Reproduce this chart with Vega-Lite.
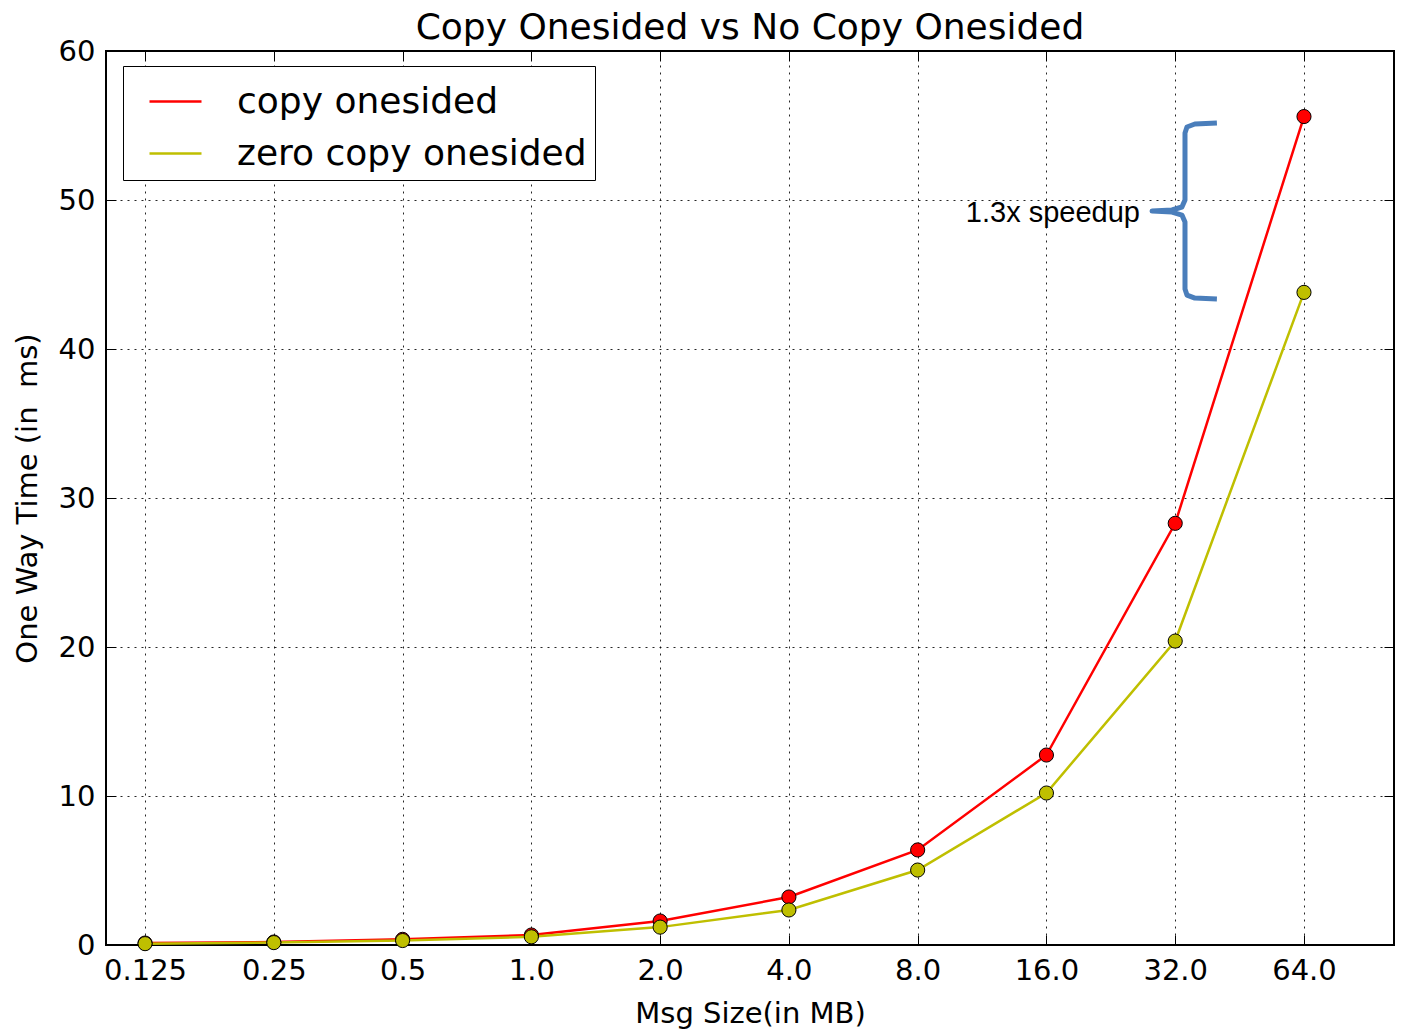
{
  "$schema": "https://vega.github.io/schema/vega-lite/v6.json",
  "autosize": "none",
  "width": 1288,
  "height": 894,
  "padding": {"left": 106, "top": 51, "right": 7, "bottom": 88},
  "background": "white",
  "title": {"text": "Copy Onesided vs No Copy Onesided", "fontSize": 36, "fontWeight": "normal", "font": "DejaVu Sans", "color": "black", "anchor": "middle", "offset": -10},
  "datasets": {
    "series": [
      {"size": 0.125, "time": 0.13, "series": "copy onesided"},
      {"size": 0.25, "time": 0.2, "series": "copy onesided"},
      {"size": 0.5, "time": 0.38, "series": "copy onesided"},
      {"size": 1.0, "time": 0.67, "series": "copy onesided"},
      {"size": 2.0, "time": 1.61, "series": "copy onesided"},
      {"size": 4.0, "time": 3.22, "series": "copy onesided"},
      {"size": 8.0, "time": 6.38, "series": "copy onesided"},
      {"size": 16.0, "time": 12.75, "series": "copy onesided"},
      {"size": 32.0, "time": 28.3, "series": "copy onesided"},
      {"size": 64.0, "time": 55.6, "series": "copy onesided"},
      {"size": 0.125, "time": 0.09, "series": "zero copy onesided"},
      {"size": 0.25, "time": 0.16, "series": "zero copy onesided"},
      {"size": 0.5, "time": 0.3, "series": "zero copy onesided"},
      {"size": 1.0, "time": 0.55, "series": "zero copy onesided"},
      {"size": 2.0, "time": 1.2, "series": "zero copy onesided"},
      {"size": 4.0, "time": 2.35, "series": "zero copy onesided"},
      {"size": 8.0, "time": 5.03, "series": "zero copy onesided"},
      {"size": 16.0, "time": 10.2, "series": "zero copy onesided"},
      {"size": 32.0, "time": 20.4, "series": "zero copy onesided"},
      {"size": 64.0, "time": 43.8, "series": "zero copy onesided"}
    ],
    "brace": [
      {"o": 1, "size": 40.05, "time": 55.17},
      {"o": 2, "size": 35.57, "time": 55.10},
      {"o": 3, "size": 34.09, "time": 54.90},
      {"o": 4, "size": 33.73, "time": 54.50},
      {"o": 5, "size": 33.73, "time": 50.0},
      {"o": 6, "size": 33.18, "time": 49.53},
      {"o": 7, "size": 31.45, "time": 49.33},
      {"o": 8, "size": 28.25, "time": 49.26},
      {"o": 9, "size": 31.45, "time": 49.19},
      {"o": 10, "size": 33.18, "time": 48.99},
      {"o": 11, "size": 33.73, "time": 48.52},
      {"o": 12, "size": 33.73, "time": 44.03},
      {"o": 13, "size": 34.09, "time": 43.62},
      {"o": 14, "size": 35.57, "time": 43.42},
      {"o": 15, "size": 40.05, "time": 43.36}
    ],
    "note": [
      {"size": 26.47, "time": 48.52, "label": "1.3x speedup"}
    ]
  },
  "resolve": {"axis": {"x": "independent", "y": "independent"}},
  "layer": [
    {
      "data": {"name": "series"},
      "mark": {"type": "line", "strokeWidth": 2.5},
      "encoding": {
        "x": {"field": "size", "type": "quantitative",
          "scale": {"type": "log", "base": 2, "domain": [0.1013, 103.9], "nice": false, "zero": false},
          "axis": {"orient": "bottom", "values": [0.125, 0.25, 0.5, 1, 2, 4, 8, 16, 32, 64],
            "labelExpr": "datum.value < 1 ? '' + datum.value : format(datum.value, '.1f')",
            "title": "Msg Size(in MB)"}},
        "y": {"field": "time", "type": "quantitative",
          "scale": {"domain": [0, 60], "nice": false, "zero": true},
          "axis": {"orient": "left", "values": [0, 10, 20, 30, 40, 50, 60], "title": "One Way Time (in \u00a0ms)"}},
        "color": {"field": "series", "type": "nominal",
          "scale": {"domain": ["copy onesided", "zero copy onesided"], "range": ["#ff0000", "#bfbf00"]},
          "legend": {"title": null, "orient": "none", "legendX": 17, "legendY": 15,
            "symbolType": "stroke", "symbolSize": 2704, "symbolStrokeWidth": 2.5,
            "labelFontSize": 36, "labelFont": "DejaVu Sans", "labelColor": "black",
            "labelOffset": 34, "rowPadding": 6, "padding": 8, "symbolOffset": 17,
            "strokeColor": "black", "fillColor": "white", "cornerRadius": 0, "labelLimit": 0}}
      }
    },
    {
      "data": {"name": "series"},
      "mark": {"type": "point", "filled": true, "size": 200, "stroke": "black", "strokeWidth": 1, "opacity": 1},
      "encoding": {
        "x": {"field": "size", "type": "quantitative", "axis": null},
        "y": {"field": "time", "type": "quantitative", "axis": null},
        "color": {"field": "series", "type": "nominal", "legend": null}
      }
    },
    {
      "data": {"name": "series"},
      "mark": {"type": "point", "opacity": 0},
      "encoding": {
        "x": {"field": "size", "type": "quantitative",
          "axis": {"orient": "top", "values": [0.125, 0.25, 0.5, 1, 2, 4, 8, 16, 32, 64], "labels": false, "grid": false, "title": null, "domain": false}},
        "y": {"field": "time", "type": "quantitative",
          "axis": {"orient": "right", "values": [0, 10, 20, 30, 40, 50, 60], "labels": false, "grid": false, "title": null, "domain": false}}
      }
    },
    {
      "data": {"name": "brace"},
      "mark": {"type": "line", "color": "#4a7ebb", "strokeWidth": 5, "strokeCap": "butt", "strokeJoin": "round"},
      "encoding": {
        "x": {"field": "size", "type": "quantitative", "axis": null},
        "y": {"field": "time", "type": "quantitative", "axis": null},
        "order": {"field": "o", "type": "quantitative"}
      }
    },
    {
      "data": {"name": "note"},
      "mark": {"type": "text", "align": "right", "baseline": "alphabetic", "font": "Liberation Sans", "fontSize": 29, "color": "black"},
      "encoding": {
        "x": {"field": "size", "type": "quantitative", "axis": null},
        "y": {"field": "time", "type": "quantitative", "axis": null},
        "text": {"field": "label"}
      }
    }
  ],
  "config": {
    "view": {"stroke": "black", "strokeWidth": 2},
    "font": "DejaVu Sans",
    "axis": {
      "domain": false,
      "tickSize": -10, "tickColor": "black", "tickWidth": 1,
      "grid": true, "gridColor": "black", "gridDash": [2, 5], "gridWidth": 1, "gridOpacity": 0.85,
      "labelFont": "DejaVu Sans", "labelFontSize": 29, "labelColor": "black", "labelPadding": 21,
      "titleFont": "DejaVu Sans", "titleFontSize": 29, "titleFontWeight": "normal", "titleColor": "black"
    },
    "axisX": {"titlePadding": 14},
    "axisY": {"titlePadding": 16, "labelPadding": 21}
  }
}
